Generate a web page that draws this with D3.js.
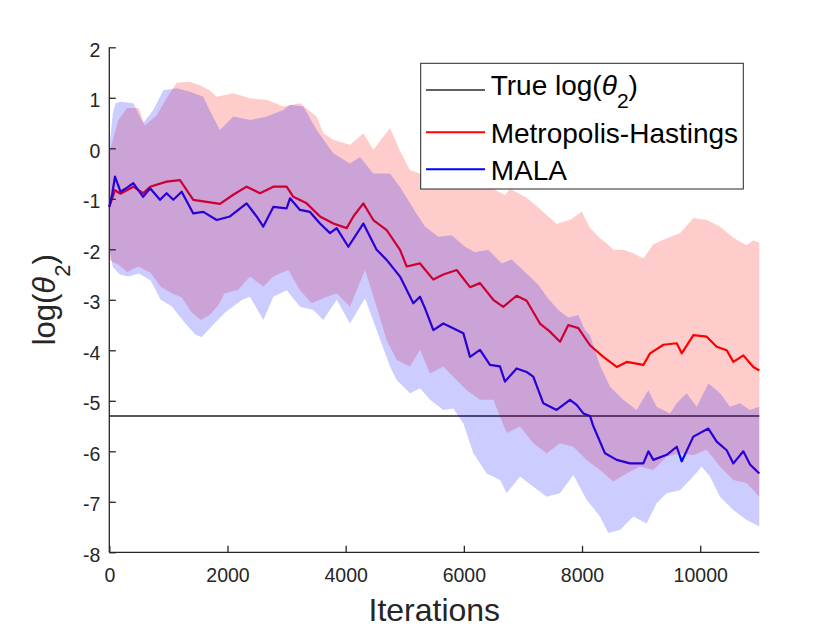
<!DOCTYPE html>
<html>
<head>
<meta charset="utf-8">
<script src="https://cdn.jsdelivr.net/npm/d3@7"></script>
<style>
  body { margin: 0; background: #fff; }
  text { font-family: "Liberation Sans", Arial, Helvetica, sans-serif; }
</style>
</head>
<body>
<svg width="840" height="630"></svg>
<script>
// values: [iteration, log(theta2)]
const trueValue = -5.3;

const mhMean = [[0,-1.16],[96,-0.83],[190,-0.9],[406,-0.76],[572,-0.89],[690,-0.76],[970,-0.66],[1196,-0.63],
  [1421,-1.02],[1648,-1.06],[1873,-1.1],[2098,-0.92],[2324,-0.76],[2550,-0.89],[2776,-0.76],[3001,-0.76],
  [3114,-0.96],[3340,-1.09],[3566,-1.35],[3792,-1.49],[4017,-1.58],[4130,-1.35],[4299,-1.09],[4468,-1.42],
  [4694,-1.62],[4920,-2.01],[5033,-2.34],[5258,-2.28],[5484,-2.6],[5653,-2.5],[5879,-2.41],[6104,-2.75],
  [6273,-2.67],[6498,-3.0],[6667,-3.14],[6893,-2.92],[7063,-3.02],[7288,-3.47],[7457,-3.63],[7628,-3.83],
  [7768,-3.5],[7937,-3.56],[8135,-3.9],[8361,-4.13],[8587,-4.33],[8756,-4.23],[9038,-4.29],[9151,-4.06],
  [9377,-3.89],[9603,-3.86],[9687,-4.06],[9884,-3.7],[10110,-3.73],[10279,-3.93],[10448,-4.0],[10561,-4.23],
  [10730,-4.1],[10899,-4.33],[11000,-4.4]];

const malaMean = [[0,-1.16],[50,-0.9],[96,-0.56],[190,-0.86],[300,-0.78],[406,-0.69],[572,-0.96],[690,-0.79],
  [858,-1.02],[970,-0.89],[1083,-1.02],[1225,-0.86],[1421,-1.29],[1591,-1.26],[1817,-1.42],[2042,-1.35],
  [2324,-1.09],[2493,-1.35],[2606,-1.55],[2776,-1.16],[3001,-1.19],[3058,-0.99],[3227,-1.22],[3396,-1.26],
  [3566,-1.49],[3735,-1.68],[3848,-1.58],[4045,-1.95],[4299,-1.49],[4524,-2.01],[4694,-2.21],[4920,-2.54],
  [5145,-3.07],[5258,-2.94],[5343,-3.17],[5484,-3.6],[5653,-3.47],[5879,-3.6],[5991,-3.66],[6104,-4.13],
  [6273,-3.99],[6442,-4.29],[6611,-4.32],[6696,-4.62],[6893,-4.36],[7063,-4.43],[7175,-4.52],[7345,-5.05],
  [7570,-5.18],[7796,-4.98],[7909,-5.08],[8022,-5.25],[8135,-5.3],[8190,-5.5],[8389,-6.04],[8587,-6.17],
  [8812,-6.24],[9038,-6.24],[9123,-6.0],[9207,-6.17],[9433,-6.07],[9603,-5.91],[9687,-6.2],[9884,-5.71],
  [10138,-5.55],[10279,-5.81],[10448,-5.98],[10561,-6.24],[10730,-6.0],[10843,-6.26],[11000,-6.44]];

const mhUpper = [[0,-0.1],[150,0.55],[300,0.8],[500,0.8],[600,0.45],[800,0.65],[1000,1.05],[1140,1.3],
  [1350,1.32],[1534,1.25],[1700,1.15],[1816,1.02],[2098,1.09],[2381,0.99],[2663,0.96],[2945,0.83],
  [3227,0.89],[3509,0.63],[3622,0.3],[3791,0.17],[4073,0.07],[4299,0.3],[4468,-0.03],[4750,0.4],
  [4918,-0.05],[5089,-0.43],[5257,-0.5],[5371,-0.6],[5597,-0.66],[5822,-0.6],[6048,-0.68],[6274,-0.55],
  [6499,-0.8],[6697,-0.93],[6781,-0.8],[7063,-0.98],[7289,-1.2],[7571,-1.5],[7825,-1.4],[7994,-1.25],
  [8135,-1.58],[8304,-1.78],[8417,-1.88],[8530,-2.01],[8699,-2.01],[8868,-2.08],[9037,-2.18],[9206,-1.9],
  [9432,-1.78],[9658,-1.68],[9883,-1.38],[10109,-1.42],[10334,-1.55],[10560,-1.77],[10785,-1.92],
  [10899,-1.82],[11000,-1.87]];

const mhLower = [[0,-2.2],[60,-2.25],[150,-2.3],[300,-2.45],[491,-2.34],[700,-2.47],[870,-2.74],[1055,-2.87],
  [1225,-2.95],[1390,-3.25],[1550,-3.4],[1700,-3.3],[1850,-3.1],[1950,-2.87],[2183,-2.8],[2381,-2.54],
  [2607,-2.74],[2776,-2.54],[3030,-2.41],[3227,-2.81],[3425,-3.07],[3622,-2.97],[3848,-2.87],[4073,-3.14],
  [4327,-2.41],[4524,-3.14],[4694,-3.8],[4863,-4.19],[5089,-4.32],[5258,-3.99],[5427,-4.46],[5653,-4.32],
  [5766,-4.46],[6048,-4.79],[6274,-4.98],[6499,-4.98],[6725,-5.64],[6950,-5.51],[7176,-5.84],[7402,-6.04],
  [7627,-5.84],[7853,-5.91],[8078,-6.17],[8304,-6.37],[8530,-6.6],[8755,-6.44],[8981,-6.3],[9206,-6.37],
  [9432,-6.11],[9658,-6.04],[9883,-6.08],[10109,-5.97],[10334,-6.3],[10560,-6.57],[10785,-6.63],[11000,-6.9]];

const malaUpper = [[0,0.0],[60,0.7],[105,0.89],[190,0.92],[406,0.89],[575,0.5],[745,0.76],[914,1.15],
  [1140,1.19],[1365,1.12],[1591,1.02],[1700,0.75],[1873,0.36],[2098,0.63],[2381,0.56],[2663,0.63],
  [2945,0.76],[3058,0.86],[3284,0.83],[3509,0.36],[3791,-0.1],[4073,-0.3],[4243,-0.17],[4468,-0.5],
  [4750,-0.5],[4918,-0.76],[5202,-1.3],[5343,-1.55],[5568,-1.75],[5794,-1.72],[6020,-1.95],[6189,-2.06],
  [6415,-2.01],[6641,-2.28],[6810,-2.2],[7035,-2.45],[7261,-2.7],[7430,-2.98],[7599,-3.2],[7768,-3.35],
  [7937,-3.3],[8050,-3.6],[8135,-3.7],[8219,-4.0],[8304,-4.3],[8474,-4.72],[8699,-4.98],[8924,-5.18],
  [9122,-4.79],[9263,-5.12],[9489,-5.25],[9602,-5.05],[9771,-4.85],[9940,-5.12],[10138,-4.65],[10335,-4.85],
  [10504,-5.12],[10673,-5.05],[10843,-5.18],[11000,-5.12]];

const malaLower = [[0,-2.0],[60,-2.35],[180,-2.5],[320,-2.54],[500,-2.48],[700,-2.62],[870,-3.0],[1055,-3.13],
  [1280,-3.46],[1450,-3.68],[1560,-3.74],[1730,-3.53],[1950,-3.26],[2100,-3.13],[2250,-3.0],[2381,-2.94],
  [2607,-3.4],[2776,-2.94],[3002,-2.81],[3227,-3.14],[3453,-3.2],[3622,-3.4],[3848,-3.0],[4073,-3.47],
  [4327,-2.97],[4524,-3.6],[4750,-4.32],[4863,-4.59],[5089,-4.85],[5258,-4.75],[5428,-4.98],[5653,-5.18],
  [5822,-5.15],[5991,-5.45],[6161,-6.04],[6386,-6.44],[6612,-6.57],[6725,-6.83],[6950,-6.5],[7176,-6.7],
  [7402,-6.9],[7627,-6.83],[7853,-6.47],[8078,-6.96],[8304,-7.29],[8445,-7.62],[8642,-7.56],[8868,-7.29],
  [9093,-7.43],[9262,-7.03],[9432,-6.83],[9658,-6.77],[9883,-6.5],[10024,-6.3],[10165,-6.5],[10334,-6.9],
  [10560,-7.16],[10785,-7.36],[11000,-7.49]];

const xTicks = [0, 2000, 4000, 6000, 8000, 10000];
const yTicks = [-8, -7, -6, -5, -4, -3, -2, -1, 0, 1, 2];

///////////////////////////////////////////////////////////////
///////////// chart ///////////////////////////////////////////
///////////////////////////////////////////////////////////////
const svg = d3.select('svg');
const axisColor = '#262626';

const xScale = d3.scaleLinear().domain([0, 11000]).range([109.3, 759.3]);
const yScale = d3.scaleLinear().domain([-8, 2]).range([552.3, 47.3]);

const line = d3.line().x(d => xScale(d[0])).y(d => yScale(d[1]));

// band polygon: upper edge forward, lower edge back
const band = (upper, lower) => line(upper.concat(lower.slice().reverse())) + 'Z';

const plot = svg.append('g');

// lines first, the translucent bands sit on top of them
plot.append('path')
  .attr('d', line([[0, trueValue], [11000, trueValue]]))
  .attr('fill', 'none').attr('stroke', '#585858').attr('stroke-width', 2);

plot.append('path').datum(mhMean)
  .attr('d', line).attr('fill', 'none')
  .attr('stroke', '#ff0000').attr('stroke-width', 2.2).attr('stroke-linejoin', 'round');

plot.append('path').datum(malaMean)
  .attr('d', line).attr('fill', 'none')
  .attr('stroke', '#0000ff').attr('stroke-width', 2.2).attr('stroke-linejoin', 'round');

plot.append('path')
  .attr('d', band(mhUpper, mhLower))
  .attr('fill', '#ff0000').attr('fill-opacity', 0.2);

plot.append('path')
  .attr('d', band(malaUpper, malaLower))
  .attr('fill', '#0000ff').attr('fill-opacity', 0.2);

///////////////////////////////////////////////////////////////
///////////// axes ////////////////////////////////////////////
///////////////////////////////////////////////////////////////
// plain hyphen for negatives, like the original
const fmt = d => String(d);

const xAxis = svg.append('g')
  .attr('transform', `translate(0,${yScale(-8)})`)
  .call(d3.axisBottom(xScale).tickValues(xTicks).tickSize(-6.5).tickPadding(17).tickFormat(fmt));

const yAxis = svg.append('g')
  .attr('transform', `translate(${xScale(0)},0)`)
  .call(d3.axisLeft(yScale).tickValues(yTicks).tickSize(-6.5).tickPadding(9).tickFormat(fmt));

[xAxis, yAxis].forEach(g => {
  g.select('.domain').attr('stroke', axisColor).attr('stroke-width', 1.3);
  g.selectAll('.tick line').attr('stroke', axisColor).attr('stroke-width', 1.3);
  g.selectAll('.tick text')
    .attr('fill', axisColor)
    .style('font-size', '19.5px')
    .style('font-family', '"Liberation Sans", Arial, sans-serif');
});
xAxis.select('.domain').attr('d', `M${xScale(0)},0H${xScale(11000)}`);
yAxis.select('.domain').attr('d', `M0,${yScale(-8)}V${yScale(2)}`);
xAxis.selectAll('.tick text').attr('y', 30).attr('dy', 0);
yAxis.selectAll('.tick text').attr('dy', '0.47em');

// axis titles
svg.append('text')
  .attr('x', (xScale(0) + xScale(11000)) / 2).attr('y', 621)
  .attr('text-anchor', 'middle').attr('fill', axisColor)
  .style('font-size', '32px')
  .text('Iterations');

const yTitle = svg.append('text')
  .attr('transform', `translate(55,${(yScale(-8) + yScale(2)) / 2}) rotate(-90)`)
  .attr('text-anchor', 'middle').attr('fill', axisColor)
  .style('font-size', '31px');
yTitle.append('tspan').text('log(');
yTitle.append('tspan').style('font-style', 'italic').text('θ');
yTitle.append('tspan').attr('dy', 15).style('font-size', '22px').text('2');
yTitle.append('tspan').attr('dy', -15).text(')');

///////////////////////////////////////////////////////////////
///////////// legend //////////////////////////////////////////
///////////////////////////////////////////////////////////////
const legend = svg.append('g');
legend.append('rect')
  .attr('x', 420.7).attr('y', 63.3).attr('width', 322.6).attr('height', 125.7)
  .attr('fill', '#fff').attr('stroke', axisColor).attr('stroke-width', 1);

const legendRows = [
  { color: '#606060', y: 90, base: 95 },
  { color: '#ff0000', y: 132.3, base: 143, label: 'Metropolis-Hastings' },
  { color: '#0000ff', y: 169.3, base: 180, label: 'MALA' }
];

legendRows.forEach((r, i) => {
  legend.append('line')
    .attr('x1', 426).attr('x2', 485).attr('y1', r.y).attr('y2', r.y)
    .attr('stroke', r.color).attr('stroke-width', 2);
  const t = legend.append('text')
    .attr('x', 490.7).attr('y', r.base)
    .attr('fill', '#000').style('font-size', '28px');
  if (i === 0) {
    t.append('tspan').text('True log(');
    t.append('tspan').style('font-style', 'italic').text('θ');
    t.append('tspan').attr('dy', 13).style('font-size', '21px').text('2');
    t.append('tspan').attr('dy', -13).text(')');
  } else {
    t.text(r.label);
  }
});
</script>
</body>
</html>
